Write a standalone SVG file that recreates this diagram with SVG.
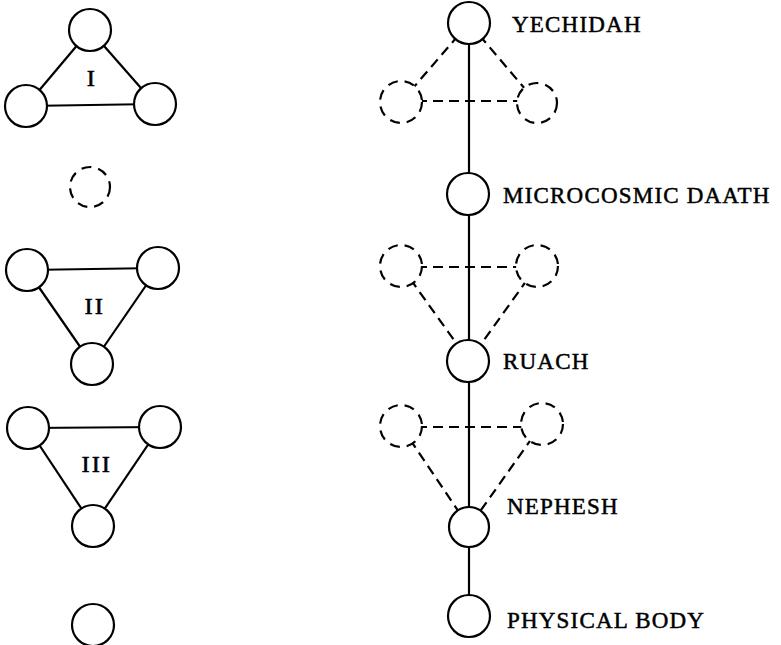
<svg xmlns="http://www.w3.org/2000/svg" width="781" height="645" viewBox="0 0 781 645">
  <style>
    .edge { stroke: #000; stroke-width: 2.2; fill: none; }
    .dash { stroke: #000; stroke-width: 2.2; fill: none; stroke-dasharray: 10 6; }
    .node { stroke: #000; stroke-width: 2.2; fill: #fff; }
    .ghost { stroke: #000; stroke-width: 2.2; fill: #fff; stroke-dasharray: 10 7; }
    .label { font-family: "Liberation Serif", "Times New Roman", serif; font-size: 23px; letter-spacing: 1.2px; fill: #000; stroke: #000; stroke-width: 0.5; }
    .num { font-family: "Liberation Serif", "Times New Roman", serif; font-size: 23px; letter-spacing: 2.5px; fill: #000; stroke: #000; stroke-width: 0.7; text-anchor: middle; }
  </style>
  <rect width="781" height="645" fill="#fff"/>

  <!-- connectors -->
  <g id="connectors">
    <!-- triad I -->
    <line class="edge" x1="90" y1="30" x2="26" y2="106"/>
    <line class="edge" x1="90" y1="30" x2="155" y2="104"/>
    <line class="edge" x1="26" y1="106" x2="155" y2="104"/>
    <!-- triad II -->
    <line class="edge" x1="27" y1="270" x2="158" y2="268"/>
    <line class="edge" x1="27" y1="270" x2="92" y2="364"/>
    <line class="edge" x1="158" y1="268" x2="92" y2="364"/>
    <!-- triad III -->
    <line class="edge" x1="28" y1="428" x2="160" y2="427"/>
    <line class="edge" x1="28" y1="428" x2="93" y2="526"/>
    <line class="edge" x1="160" y1="427" x2="93" y2="526"/>

    <!-- dashed triads on the central column -->
    <line class="dash" x1="469" y1="23" x2="401" y2="102"/>
    <line class="dash" x1="469" y1="23" x2="537" y2="103"/>
    <line class="dash" x1="401" y1="101" x2="537" y2="101"/>

    <line class="dash" x1="401" y1="267" x2="537" y2="267"/>
    <line class="dash" x1="401" y1="266" x2="469" y2="361"/>
    <line class="dash" x1="537" y1="266" x2="469" y2="361"/>

    <line class="dash" x1="401" y1="427" x2="542" y2="427"/>
    <line class="dash" x1="401" y1="426" x2="469" y2="527"/>
    <line class="dash" x1="542" y1="424" x2="469" y2="527"/>

    <!-- central column -->
    <line class="edge" x1="469" y1="23" x2="469" y2="194"/>
    <line class="edge" x1="469" y1="194" x2="469" y2="361"/>
    <line class="edge" x1="469" y1="361" x2="469" y2="527"/>
    <line class="edge" x1="469" y1="527" x2="469" y2="616"/>
  </g>

  <!-- left column -->
  <g id="triad-1">
    <circle class="node" cx="90" cy="30" r="21"/>
    <circle class="node" cx="26" cy="106" r="21"/>
    <circle class="node" cx="155" cy="104" r="21"/>
    <text class="num" x="92" y="86">I</text>
  </g>
  <g id="left-daath">
    <circle class="ghost" cx="90" cy="187" r="20"/>
  </g>
  <g id="triad-2">
    <circle class="node" cx="27" cy="270" r="21"/>
    <circle class="node" cx="158" cy="268" r="21"/>
    <circle class="node" cx="92" cy="364" r="21"/>
    <text class="num" x="95" y="314">II</text>
  </g>
  <g id="triad-3">
    <circle class="node" cx="28" cy="428" r="21"/>
    <circle class="node" cx="160" cy="427" r="21"/>
    <circle class="node" cx="93" cy="526" r="21"/>
    <text class="num" x="97" y="472">III</text>
  </g>
  <g id="left-body">
    <circle class="node" cx="93" cy="625" r="21"/>
  </g>

  <!-- central column -->
  <g id="yechidah">
    <circle class="node" cx="469" cy="23" r="21"/>
    <text class="label" x="512" y="32">YECHIDAH</text>
  </g>
  <g id="upper-pair">
    <circle class="ghost" cx="401" cy="102" r="21"/>
    <circle class="ghost" cx="537" cy="103" r="20"/>
  </g>
  <g id="microcosmic-daath">
    <circle class="node" cx="468" cy="194" r="21"/>
    <text class="label" x="503" y="203">MICROCOSMIC DAATH</text>
  </g>
  <g id="middle-pair">
    <circle class="ghost" cx="401" cy="266" r="21"/>
    <circle class="ghost" cx="537" cy="266" r="21"/>
  </g>
  <g id="ruach">
    <circle class="node" cx="468" cy="361" r="21"/>
    <text class="label" x="503" y="369">RUACH</text>
  </g>
  <g id="lower-pair">
    <circle class="ghost" cx="401" cy="426" r="21"/>
    <circle class="ghost" cx="542" cy="424" r="21"/>
  </g>
  <g id="nephesh">
    <circle class="node" cx="469" cy="527" r="20"/>
    <text class="label" x="507" y="514">NEPHESH</text>
  </g>
  <g id="physical-body">
    <circle class="node" cx="469" cy="616" r="21"/>
    <text class="label" x="507" y="628">PHYSICAL BODY</text>
  </g>
</svg>
